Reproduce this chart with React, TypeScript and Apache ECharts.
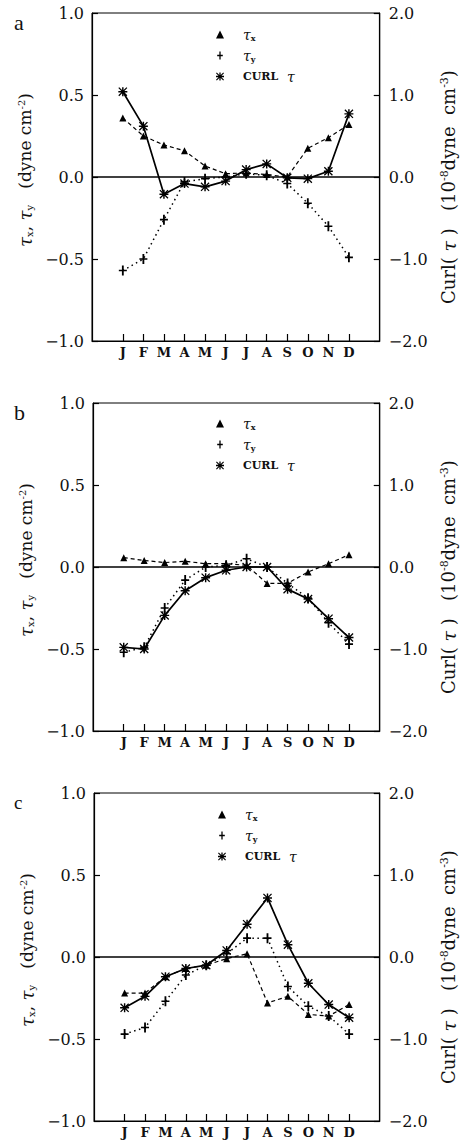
import React, { useEffect, useRef } from "react";
import * as echarts from "echarts";

const months = ["J", "F", "M", "A", "M", "J", "J", "A", "S", "O", "N", "D"];
const monthIdx = [1, 2, 3, 4, 5, 6, 7, 8, 9, 10, 11, 12];
const leftTicks = ["−1.0", "−0.5", "0.0", "0.5", "1.0"];
const rightTicks = ["−2.0", "−1.0", "0.0", "1.0", "2.0"];
const panelLabels = ["a", "b", "c"];

// panel a
const aTx = [0.36, 0.25, 0.195, 0.16, 0.067, 0.02, 0.025, 0.015, 0.0, 0.175, 0.24, 0.32];
const aTy = [-0.57, -0.5, -0.26, -0.03, -0.01, 0.0, 0.02, 0.01, -0.04, -0.16, -0.3, -0.49];
const aCurl = [1.04, 0.62, -0.21, -0.08, -0.12, -0.05, 0.09, 0.16, -0.01, -0.02, 0.07, 0.77];
// panel b
const bTx = [0.057, 0.04, 0.027, 0.035, 0.02, 0.02, 0.01, -0.1, -0.1, -0.03, 0.02, 0.075];
const bTy = [-0.52, -0.49, -0.25, -0.08, 0.0, 0.01, 0.05, 0.0, -0.1, -0.19, -0.34, -0.47];
const bCurl = [-0.98, -1.0, -0.59, -0.29, -0.13, -0.04, 0.0, 0.0, -0.27, -0.39, -0.63, -0.86];
// panel c
const cTx = [-0.22, -0.22, -0.12, -0.07, -0.05, -0.01, 0.02, -0.28, -0.24, -0.35, -0.36, -0.29];
const cTy = [-0.47, -0.43, -0.27, -0.11, -0.05, 0.02, 0.115, 0.115, -0.18, -0.3, -0.36, -0.47];
const cCurl = [-0.62, -0.48, -0.24, -0.14, -0.1, 0.08, 0.4, 0.72, 0.15, -0.32, -0.58, -0.74];

const panels = [
  { tx: aTx, ty: aTy, curl: aCurl },
  { tx: bTx, ty: bTy, curl: bCurl },
  { tx: cTx, ty: cTy, curl: cCurl },
];

const grids = [
  { left: 92, top: 13, width: 290, height: 328 },
  { left: 93, top: 403, width: 289, height: 328 },
  { left: 94, top: 793, width: 288, height: 328 },
];
const legendPos = [
  { left: 211, top: 22 },
  { left: 211, top: 411 },
  { left: 213, top: 802 },
];

const PLUS = "path://M4.2,0 L5.8,0 L5.8,10 L4.2,10 Z M1.5,4.2 L8.5,4.2 L8.5,5.8 L1.5,5.8 Z";
const STAR =
  "path://M4.2,0 L5.8,0 L5.8,10 L4.2,10 Z M0,4.2 L10,4.2 L10,5.8 L0,5.8 Z M1,0 L10,9 L9,10 L0,1 Z M9,0 L10,1 L1,10 L0,9 Z";

const SERIF = "DejaVu Serif";
const names = ["τx", "τy", "CURL τ"];

const pair = (vals: number[]) => vals.map((v, i) => [monthIdx[i], v]);

export default function App() {
  const ref = useRef<HTMLDivElement>(null);
  useEffect(() => {
    if (!ref.current) return;
    const chart = echarts.init(ref.current, null, { renderer: "svg" });
    const xAxis: any[] = [];
    const yAxis: any[] = [];
    const series: any[] = [];
    const legend: any[] = [];
    const graphic: any[] = [];

    const leftRich = {
      t: { fontFamily: SERIF, fontStyle: "italic", fontSize: 18, color: "#111" },
      s: { fontFamily: SERIF, fontSize: 10, color: "#111", verticalAlign: "bottom", padding: [8, 0, 0, 0] },
      n: { fontFamily: SERIF, fontSize: 17, color: "#111" },
      p: { fontFamily: SERIF, fontSize: 10, color: "#111", verticalAlign: "top", padding: [0, 0, 8, 0] },
    };
    const rightRich = {
      t: { fontFamily: SERIF, fontStyle: "italic", fontSize: 19, color: "#111" },
      n: { fontFamily: SERIF, fontSize: 18, color: "#111" },
      p: { fontFamily: SERIF, fontSize: 11, color: "#111", verticalAlign: "top", padding: [0, 0, 9, 0] },
    };

    grids.forEach((g, k) => {
      xAxis.push({
        type: "value",
        gridIndex: k,
        min: -0.5,
        max: 13.5,
        axisLine: { show: true, onZero: false, lineStyle: { color: "#000", width: 1.2 } },
        axisTick: { show: true, inside: true, length: 7, customValues: monthIdx, lineStyle: { color: "#000", width: 1.2 } },
        axisLabel: {
          show: true,
          customValues: monthIdx,
          formatter: (v: number) => months[Math.round(v) - 1] ?? "",
          fontFamily: SERIF,
          fontWeight: "bold",
          fontSize: 13,
          color: "#111",
          margin: 5,
        },
        splitLine: { show: false },
      });
      yAxis.push({
        type: "value",
        gridIndex: k,
        position: "left",
        min: -1,
        max: 1,
        interval: 0.5,
        axisLine: { show: true, onZero: false, lineStyle: { color: "#000", width: 1.2 } },
        axisTick: { show: true, inside: true, length: 6, lineStyle: { color: "#000", width: 1.2 } },
        axisLabel: {
          formatter: (v: number) => leftTicks[Math.round((v + 1) * 2)],
          fontFamily: SERIF,
          fontSize: 16,
          color: "#111",
          margin: 8,
        },
        splitLine: { show: false },
        name: "{t|τ}{s|x}{n|, }{t|τ}{s|y}{n|   (dyne cm}{p|-2}{n|)}",
        nameLocation: "middle",
        nameRotate: 90,
        nameGap: 49,
        nameTextStyle: { rich: leftRich, padding: [0, 0, 0, 14] },
      });
      yAxis.push({
        type: "value",
        gridIndex: k,
        position: "right",
        min: -2,
        max: 2,
        interval: 1,
        axisLine: { show: true, onZero: false, lineStyle: { color: "#000", width: 1.2 } },
        axisTick: { show: true, inside: true, length: 6, lineStyle: { color: "#000", width: 1.2 } },
        axisLabel: {
          formatter: (v: number) => rightTicks[Math.round(v + 2)],
          fontFamily: SERIF,
          fontSize: 16,
          color: "#111",
          margin: 9,
        },
        splitLine: { show: false },
        name: "{n|Curl( }{t|τ}{n| )   (10}{p|-8}{n|dyne  cm}{p|-3}{n|)}",
        nameLocation: "middle",
        nameRotate: 90,
        nameGap: 47,
        nameTextStyle: { rich: rightRich, padding: [0, 20, 0, 0] },
      });

      const p = panels[k];
      series.push({
        type: "line",
        name: names[0],
        xAxisIndex: k,
        yAxisIndex: 2 * k,
        data: pair(p.tx),
        symbol: "triangle",
        symbolSize: 7,
        itemStyle: { color: "#000" },
        lineStyle: { color: "#000", width: 1.2, type: [4, 3] },
        markLine: {
          silent: true,
          symbol: "none",
          label: { show: false },
          lineStyle: { color: "#000", width: 1.5, type: "solid" },
          data: [{ yAxis: 0 }],
        },
        z: 3,
      });
      series.push({
        type: "line",
        name: names[1],
        xAxisIndex: k,
        yAxisIndex: 2 * k,
        data: pair(p.ty),
        symbol: PLUS,
        symbolSize: [8, 10],
        itemStyle: { color: "#000" },
        lineStyle: { color: "#000", width: 1.5, type: [1.5, 3.5] },
        z: 3,
      });
      series.push({
        type: "line",
        name: names[2],
        xAxisIndex: k,
        yAxisIndex: 2 * k + 1,
        data: pair(p.curl),
        symbol: STAR,
        symbolSize: 9,
        itemStyle: { color: "#000" },
        lineStyle: { color: "#000", width: 1.7, type: "solid" },
        z: 4,
      });

      legend.push({
        orient: "vertical",
        left: legendPos[k].left,
        top: legendPos[k].top,
        itemWidth: 8,
        itemHeight: 8,
        itemGap: 6,
        selectedMode: false,
        data: [
          { name: names[0], icon: "triangle" },
          { name: names[1], icon: PLUS },
          { name: names[2], icon: STAR },
        ],
        formatter: (n: string) =>
          n === names[0] ? "{g|}{t|τ}{s|x}" : n === names[1] ? "{g|}{t|τ}{s|y}" : "{g|}{c|CURL}{t|  τ}",
        textStyle: {
          color: "#111",
          lineHeight: 15,
          rich: {
            g: { width: 14 },
            t: { fontFamily: SERIF, fontStyle: "italic", fontSize: 14, color: "#111" },
            s: { fontFamily: SERIF, fontSize: 8, fontWeight: "bold", color: "#111", verticalAlign: "bottom", padding: [6, 0, 0, 0] },
            c: { fontFamily: SERIF, fontSize: 11, fontWeight: "bold", color: "#111" },
          },
        },
      });

      graphic.push({
        type: "text",
        left: 14,
        top: g.top - 2 + (k === 2 ? 2 : 0),
        style: { text: panelLabels[k], fontFamily: "Liberation Serif", fontSize: k === 2 ? 19 : 22, fill: "#111" },
      });
    });

    chart.setOption({
      animation: false,
      backgroundColor: "#fff",
      grid: grids.map((g) => ({ ...g, show: true, borderColor: "#000", borderWidth: 1, backgroundColor: "transparent" })),
      xAxis,
      yAxis,
      series,
      legend,
      graphic,
    });
    return () => chart.dispose();
  }, []);
  return <div ref={ref} style={{ position: "absolute", left: 0, top: 0, width: 466, height: 1146 }} />;
}
